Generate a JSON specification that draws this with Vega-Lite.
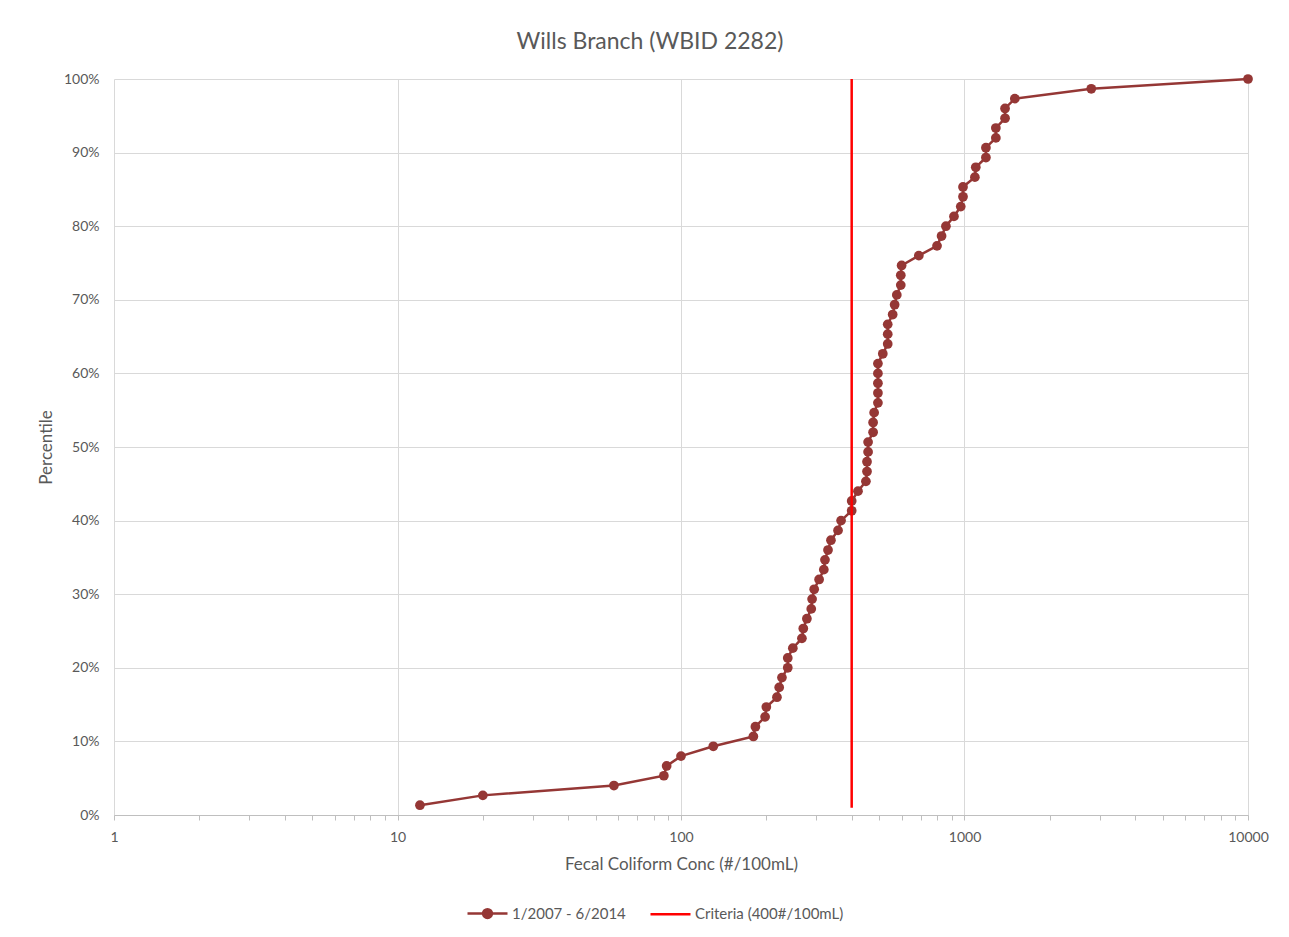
{
  "$schema": "https://vega.github.io/schema/vega-lite/v6.json",
  "width": 1134,
  "height": 736,
  "autosize": {"type": "none"},
  "padding": {"left": 114, "top": 79, "right": 41, "bottom": 122},
  "background": "white",
  "title": {"text": "Wills Branch (WBID 2282)", "fontSize": 23, "font": "Lato", "fontWeight": "normal", "color": "#595959", "offset": 18, "dx": -31},
  "data": {"values": [
    {"series": "1/2007 - 6/2014", "conc": 12, "pct": 0.01333},
    {"series": "1/2007 - 6/2014", "conc": 20, "pct": 0.02667},
    {"series": "1/2007 - 6/2014", "conc": 58, "pct": 0.04},
    {"series": "1/2007 - 6/2014", "conc": 87, "pct": 0.05333},
    {"series": "1/2007 - 6/2014", "conc": 89, "pct": 0.06667},
    {"series": "1/2007 - 6/2014", "conc": 100, "pct": 0.08},
    {"series": "1/2007 - 6/2014", "conc": 130, "pct": 0.09333},
    {"series": "1/2007 - 6/2014", "conc": 180, "pct": 0.10667},
    {"series": "1/2007 - 6/2014", "conc": 183, "pct": 0.12},
    {"series": "1/2007 - 6/2014", "conc": 198, "pct": 0.13333},
    {"series": "1/2007 - 6/2014", "conc": 200, "pct": 0.14667},
    {"series": "1/2007 - 6/2014", "conc": 218, "pct": 0.16},
    {"series": "1/2007 - 6/2014", "conc": 222, "pct": 0.17333},
    {"series": "1/2007 - 6/2014", "conc": 227, "pct": 0.18667},
    {"series": "1/2007 - 6/2014", "conc": 238, "pct": 0.2},
    {"series": "1/2007 - 6/2014", "conc": 238, "pct": 0.21333},
    {"series": "1/2007 - 6/2014", "conc": 248, "pct": 0.22667},
    {"series": "1/2007 - 6/2014", "conc": 267, "pct": 0.24},
    {"series": "1/2007 - 6/2014", "conc": 270, "pct": 0.25333},
    {"series": "1/2007 - 6/2014", "conc": 278, "pct": 0.26667},
    {"series": "1/2007 - 6/2014", "conc": 288, "pct": 0.28},
    {"series": "1/2007 - 6/2014", "conc": 290, "pct": 0.29333},
    {"series": "1/2007 - 6/2014", "conc": 295, "pct": 0.30667},
    {"series": "1/2007 - 6/2014", "conc": 307, "pct": 0.32},
    {"series": "1/2007 - 6/2014", "conc": 319, "pct": 0.33333},
    {"series": "1/2007 - 6/2014", "conc": 322, "pct": 0.34667},
    {"series": "1/2007 - 6/2014", "conc": 330, "pct": 0.36},
    {"series": "1/2007 - 6/2014", "conc": 338, "pct": 0.37333},
    {"series": "1/2007 - 6/2014", "conc": 358, "pct": 0.38667},
    {"series": "1/2007 - 6/2014", "conc": 367, "pct": 0.4},
    {"series": "1/2007 - 6/2014", "conc": 400, "pct": 0.41333},
    {"series": "1/2007 - 6/2014", "conc": 400, "pct": 0.42667},
    {"series": "1/2007 - 6/2014", "conc": 421, "pct": 0.44},
    {"series": "1/2007 - 6/2014", "conc": 449, "pct": 0.45333},
    {"series": "1/2007 - 6/2014", "conc": 453, "pct": 0.46667},
    {"series": "1/2007 - 6/2014", "conc": 453, "pct": 0.48},
    {"series": "1/2007 - 6/2014", "conc": 457, "pct": 0.49333},
    {"series": "1/2007 - 6/2014", "conc": 457, "pct": 0.50667},
    {"series": "1/2007 - 6/2014", "conc": 476, "pct": 0.52},
    {"series": "1/2007 - 6/2014", "conc": 476, "pct": 0.53333},
    {"series": "1/2007 - 6/2014", "conc": 480, "pct": 0.54667},
    {"series": "1/2007 - 6/2014", "conc": 495, "pct": 0.56},
    {"series": "1/2007 - 6/2014", "conc": 495, "pct": 0.57333},
    {"series": "1/2007 - 6/2014", "conc": 495, "pct": 0.58667},
    {"series": "1/2007 - 6/2014", "conc": 495, "pct": 0.6},
    {"series": "1/2007 - 6/2014", "conc": 495, "pct": 0.61333},
    {"series": "1/2007 - 6/2014", "conc": 515, "pct": 0.62667},
    {"series": "1/2007 - 6/2014", "conc": 536, "pct": 0.64},
    {"series": "1/2007 - 6/2014", "conc": 536, "pct": 0.65333},
    {"series": "1/2007 - 6/2014", "conc": 536, "pct": 0.66667},
    {"series": "1/2007 - 6/2014", "conc": 558, "pct": 0.68},
    {"series": "1/2007 - 6/2014", "conc": 567, "pct": 0.69333},
    {"series": "1/2007 - 6/2014", "conc": 577, "pct": 0.70667},
    {"series": "1/2007 - 6/2014", "conc": 596, "pct": 0.72},
    {"series": "1/2007 - 6/2014", "conc": 596, "pct": 0.73333},
    {"series": "1/2007 - 6/2014", "conc": 600, "pct": 0.74667},
    {"series": "1/2007 - 6/2014", "conc": 690, "pct": 0.76},
    {"series": "1/2007 - 6/2014", "conc": 800, "pct": 0.77333},
    {"series": "1/2007 - 6/2014", "conc": 830, "pct": 0.78667},
    {"series": "1/2007 - 6/2014", "conc": 860, "pct": 0.8},
    {"series": "1/2007 - 6/2014", "conc": 918, "pct": 0.81333},
    {"series": "1/2007 - 6/2014", "conc": 970, "pct": 0.82667},
    {"series": "1/2007 - 6/2014", "conc": 988, "pct": 0.84},
    {"series": "1/2007 - 6/2014", "conc": 988, "pct": 0.85333},
    {"series": "1/2007 - 6/2014", "conc": 1088, "pct": 0.86667},
    {"series": "1/2007 - 6/2014", "conc": 1096, "pct": 0.88},
    {"series": "1/2007 - 6/2014", "conc": 1190, "pct": 0.89333},
    {"series": "1/2007 - 6/2014", "conc": 1190, "pct": 0.90667},
    {"series": "1/2007 - 6/2014", "conc": 1290, "pct": 0.92},
    {"series": "1/2007 - 6/2014", "conc": 1290, "pct": 0.93333},
    {"series": "1/2007 - 6/2014", "conc": 1390, "pct": 0.94667},
    {"series": "1/2007 - 6/2014", "conc": 1390, "pct": 0.96},
    {"series": "1/2007 - 6/2014", "conc": 1505, "pct": 0.97333},
    {"series": "1/2007 - 6/2014", "conc": 2800, "pct": 0.98667},
    {"series": "1/2007 - 6/2014", "conc": 10000, "pct": 1.0},
    {"series": "Criteria (400#/100mL)", "conc": 400, "pct": 0.01},
    {"series": "Criteria (400#/100mL)", "conc": 400, "pct": 1.0}
  ]},
  "encoding": {
    "x": {
      "field": "conc", "type": "quantitative",
      "scale": {"type": "log", "domain": [1, 10000], "nice": false},
      "axis": {
        "title": "Fecal Coliform Conc (#/100mL)",
        "values": [1,2,3,4,5,6,7,8,9,10,20,30,40,50,60,70,80,90,100,200,300,400,500,600,700,800,900,1000,2000,3000,4000,5000,6000,7000,8000,9000,10000],
        "labelExpr": "indexof([1,10,100,1000,10000], datum.value) >= 0 ? format(datum.value, 'd') : ''",
        "labelOverlap": false,
        "labelBound": false,
        "labelFlush": false,
        "gridOpacity": {"condition": {"test": "indexof([1,10,100,1000,10000], datum.value) >= 0", "value": 1}, "value": 0},
        "gridColor": "#d9d9d9",
        "tickColor": "#bfbfbf",
        "tickSize": 5,
        "domainColor": "#bfbfbf",
        "labelPadding": 10,
        "titlePadding": 12
      }
    },
    "y": {
      "field": "pct", "type": "quantitative",
      "scale": {"domain": [0, 1], "nice": false, "zero": true},
      "axis": {
        "title": "Percentile",
        "values": [0,0.1,0.2,0.3,0.4,0.5,0.6,0.7,0.8,0.9,1],
        "format": ".0%",
        "ticks": false,
        "domain": false,
        "gridColor": "#d9d9d9",
        "labelPadding": 15,
        "titlePadding": 8
      }
    },
    "color": {
      "field": "series", "type": "nominal",
      "scale": {"domain": ["1/2007 - 6/2014", "Criteria (400#/100mL)"], "range": ["#953735", "#FF0000"]},
      "legend": {
        "orient": "none",
        "legendX": 352,
        "legendY": 813,
        "direction": "horizontal",
        "title": null,
        "labelFontSize": 15,
        "labelColor": "#595959",
        "labelFont": "Lato",
        "labelLimit": 400,
        "symbolSize": 1600,
        "symbolStrokeWidth": 2.5,
        "columnPadding": 19,
        "labelOffset": 3,
        "encode": {
          "symbols": {
            "update": {
              "shape": {"signal": "datum.value === 'Criteria (400#/100mL)' ? 'M-1,0H1' : 'M-1,0H1M-0.22,0A0.22,0.22 0 1,1 0.22,0A0.22,0.22 0 1,1 -0.22,0Z'"},
              "fill": {"signal": "datum.value === 'Criteria (400#/100mL)' ? 'transparent' : '#953735'"},
              "stroke": {"signal": "datum.value === 'Criteria (400#/100mL)' ? '#FF0000' : '#953735'"},
              "strokeWidth": {"value": 2.5},
              "opacity": {"value": 1},
              "fillOpacity": {"value": 1}
            }
          }
        }
      }
    },
    "order": {"field": "pct", "type": "quantitative"}
  },
  "layer": [
    {
      "transform": [{"filter": "datum.series === '1/2007 - 6/2014'"}],
      "mark": {"type": "line", "strokeWidth": 2.5}
    },
    {
      "transform": [{"filter": "datum.series === '1/2007 - 6/2014'"}],
      "mark": {"type": "point", "filled": true, "size": 95, "opacity": 1}
    },
    {
      "transform": [{"filter": "datum.series === 'Criteria (400#/100mL)'"}],
      "mark": {"type": "line", "strokeWidth": 2.5}
    }
  ],
  "config": {
    "view": {"stroke": null},
    "font": "Lato",
    "axis": {"labelFont": "Lato", "titleFont": "Lato", "labelColor": "#595959", "titleColor": "#595959", "labelFontSize": 14, "titleFontSize": 17, "titleFontWeight": "normal"}
  }
}
